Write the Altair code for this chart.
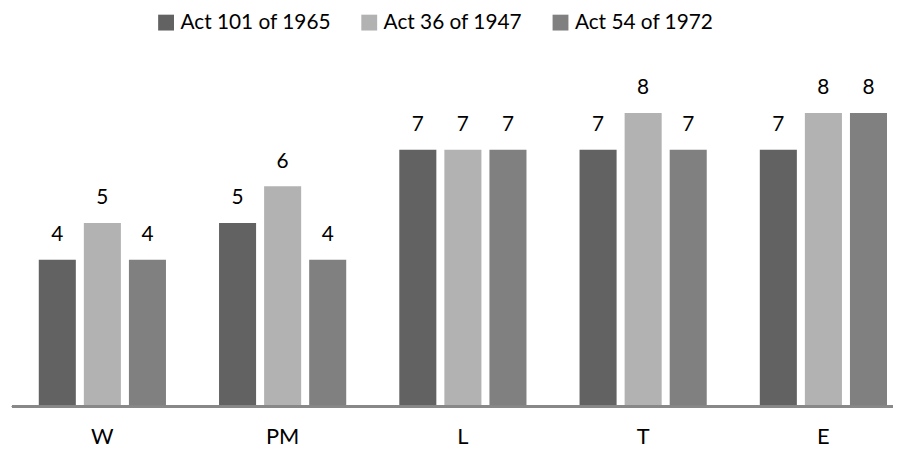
import altair as alt
import pandas as pd

categories = ["W", "PM", "L", "T", "E"]
series = ["Act 101 of 1965", "Act 36 of 1947", "Act 54 of 1972"]
act_101_1965 = [4, 5, 7, 7, 7]
act_36_1947 = [5, 6, 7, 8, 8]
act_54_1972 = [4, 4, 7, 7, 8]
colors = ["#626262", "#b2b2b2", "#808080"]

rows = []
for s, vals in zip(series, [act_101_1965, act_36_1947, act_54_1972]):
    for c, v in zip(categories, vals):
        rows.append({"cat": c, "series": s, "value": v})
df = pd.DataFrame(rows)

FONT = "Lato"

x = alt.X(
    "cat:N",
    sort=categories,
    title=None,
    scale=alt.Scale(paddingInner=0.2944, paddingOuter=0.0333),
    axis=alt.Axis(
        labelAngle=0,
        ticks=False,
        domain=False,
        labelPadding=20,
        labelFontSize=22,
        labelFont=FONT,
        labelColor="#000000",
        grid=False,
    ),
)
xo = alt.XOffset("series:N", sort=series, scale=alt.Scale(paddingInner=0.178, paddingOuter=0))
y = alt.Y("value:Q", scale=alt.Scale(domain=[0, 9]), axis=None)

bars = alt.Chart(df).mark_bar().encode(
    x=x,
    xOffset=xo,
    y=y,
    color=alt.Color(
        "series:N",
        sort=series,
        scale=alt.Scale(domain=series, range=colors),
        legend=alt.Legend(
            title=None,
            orient="none",
            direction="horizontal",
            legendX=124,
            legendY=-65,
            padding=0,
            symbolType="square",
            symbolSize=256,
            symbolStrokeWidth=0,
            labelFontSize=21,
            labelFont=FONT,
            labelColor="#000000",
            labelOffset=4,
            columnPadding=28,
        ),
    ),
)

labels = alt.Chart(df).mark_text(
    baseline="alphabetic", dy=-19, fontSize=21, font=FONT, color="#000000"
).encode(x=x, xOffset=xo, y=y, text="value:Q")

baseline_rule = alt.Chart(df).mark_rule(color="#888888", strokeWidth=1.5).encode(
    x=alt.value(-21), x2=alt.value(868), y=alt.value(333)
)

chart = (
    alt.layer(bars, labels, baseline_rule)
    .properties(
        width=868,
        height=333,
        autosize=alt.AutoSizeParams(type="none"),
        padding={"left": 25, "top": 67, "right": 0, "bottom": 39},
    )
    .configure_view(stroke=None)
)

chart.save("out.html", embed_options={"renderer": "svg", "actions": False})
